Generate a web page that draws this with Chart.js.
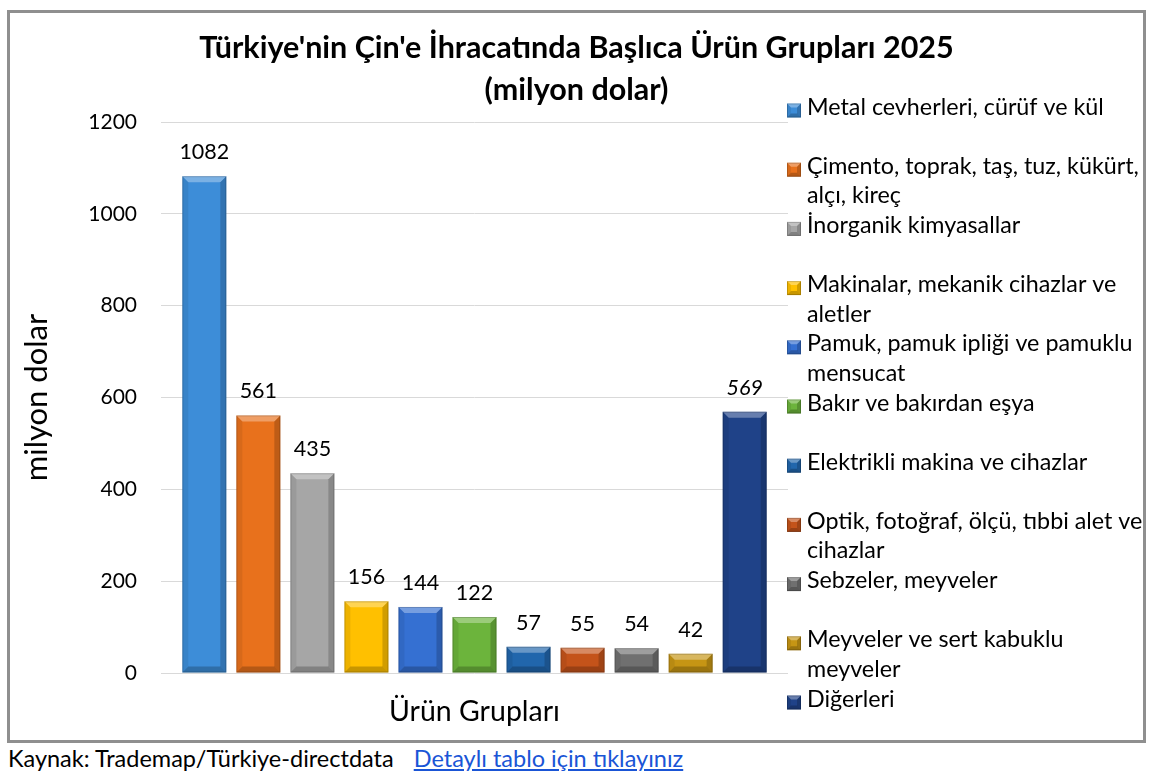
<!DOCTYPE html>
<html><head><meta charset="utf-8">
<script src="https://cdn.jsdelivr.net/npm/chart.js@4.4.1/dist/chart.umd.min.js"></script>
<style>
html,body{margin:0;padding:0;background:#fff;}
#box{position:absolute;left:7px;top:10px;width:1139px;height:733px;border:3px solid #8f8f8f;box-sizing:border-box;background:#fff;}
#box canvas{display:block}
#foot{position:absolute;left:8px;top:744px;font-family:Lato,sans-serif;font-size:23.5px;line-height:28px;color:#000;white-space:nowrap}
#foot a{color:#1a55d6;margin-left:20px}
</style></head><body>
<div id="box"><canvas id="c" width="1133" height="727"></canvas></div>
<div id="foot">Kaynak: Trademap/Türkiye-directdata<a href="#">Detaylı tablo için tıklayınız</a></div>
<script>
// ---- data ----
const titleLines = ["Türkiye'nin Çin'e İhracatında Başlıca Ürün Grupları 2025", "(milyon dolar)"];
const categories = [
  ["Metal cevherleri, cürüf ve kül"],
  ["Çimento, toprak, taş, tuz, kükürt,", "alçı, kireç"],
  ["İnorganik kimyasallar"],
  ["Makinalar, mekanik cihazlar ve", "aletler"],
  ["Pamuk, pamuk ipliği ve pamuklu", "mensucat"],
  ["Bakır ve bakırdan eşya"],
  ["Elektrikli makina ve cihazlar"],
  ["Optik, fotoğraf, ölçü, tıbbi alet ve", "cihazlar"],
  ["Sebzeler, meyveler"],
  ["Meyveler ve sert kabuklu", "meyveler"],
  ["Diğerleri"]
];
const values = [1082, 561, 435, 156, 144, 122, 57, 55, 54, 42, 569];
const colors = ["#3d8dd8", "#e8711c", "#a6a6a6", "#ffc000", "#3570d2", "#6cb43c", "#2166ac", "#c4531a", "#707070", "#c69514", "#1f4288"];
const yTicks = [0, 200, 400, 600, 800, 1000, 1200];
const yTitle = "milyon dolar";
const xTitle = "Ürün Grupları";

const FONT = "Lato, 'Open Sans', sans-serif";

function bevel(ctx, L, T, R, B, b) {
  b = Math.min(b, (B - T) / 2, (R - L) / 2);
  ctx.save();
  ctx.fillStyle = "rgba(255,255,255,0.32)";
  ctx.beginPath(); ctx.moveTo(L, T); ctx.lineTo(R, T); ctx.lineTo(R - b, T + b); ctx.lineTo(L + b, T + b); ctx.closePath(); ctx.fill();
  ctx.fillStyle = "rgba(0,0,0,0.07)";
  ctx.beginPath(); ctx.moveTo(L, T); ctx.lineTo(L + b, T + b); ctx.lineTo(L + b, B - b); ctx.lineTo(L, B); ctx.closePath(); ctx.fill();
  ctx.fillStyle = "rgba(0,0,0,0.18)";
  ctx.beginPath(); ctx.moveTo(R, T); ctx.lineTo(R - b, T + b); ctx.lineTo(R - b, B - b); ctx.lineTo(R, B); ctx.closePath(); ctx.fill();
  ctx.fillStyle = "rgba(0,0,0,0.22)";
  ctx.beginPath(); ctx.moveTo(L, B); ctx.lineTo(L + b, B - b); ctx.lineTo(R - b, B - b); ctx.lineTo(R, B); ctx.closePath(); ctx.fill();
  ctx.strokeStyle = "rgba(0,0,0,0.18)"; ctx.lineWidth = 1;
  ctx.strokeRect(L + 0.5, T + 0.5, R - L - 1, B - T - 1);
  ctx.restore();
}

const decor = {
  id: 'decor',
  afterDatasetsDraw(chart) {
    const ctx = chart.ctx;
    ctx.save();
    chart.data.datasets.forEach((ds, i) => {
      const bar = chart.getDatasetMeta(i).data[0];
      const L = bar.x - bar.width / 2, R = bar.x + bar.width / 2;
      bevel(ctx, L, bar.y, R, bar.base, 6);
      ctx.fillStyle = "#000";
      ctx.font = (i === values.length - 1 ? "italic " : "") + "21.5px " + FONT;
      ctx.textAlign = "center";
      ctx.textBaseline = "middle";
      ctx.fillText(String(values[i]), bar.x, bar.y - 24);
    });
    ctx.restore();
  },
  afterDraw(chart) {
    const ctx = chart.ctx;
    ctx.save();
    ctx.font = "23.3px " + FONT;
    ctx.textAlign = "left";
    ctx.textBaseline = "alphabetic";
    categories.forEach((lines, i) => {
      const base = 101.5 + i * 59.2;
      const mx = 777, my = base - 11, ms = 14;
      ctx.fillStyle = colors[i];
      ctx.fillRect(mx, my, ms, ms);
      bevel(ctx, mx, my, mx + ms, my + ms, 4);
      ctx.fillStyle = "#000";
      lines.forEach((t, k) => ctx.fillText(t, 797, base + k * 29.5));
    });
    ctx.restore();
  }
};

new Chart(document.getElementById('c'), {
  type: 'bar',
  data: {
    labels: [''],
    datasets: categories.map((lines, i) => ({
      label: lines.join(' '),
      data: [values[i]],
      yAxisID: 'y',
      backgroundColor: colors[i],
      borderWidth: 0,
      categoryPercentage: 0.948,
      barPercentage: 0.814
    }))
  },
  options: {
    responsive: false,
    animation: false,
    devicePixelRatio: 1,
    layout: { padding: 0 },
    plugins: {
      legend: { display: false },
      tooltip: { enabled: false },
      title: {
        display: true,
        text: titleLines,
        color: '#000',
        font: { family: FONT, size: 30.5, weight: 'bold', lineHeight: 42 / 30.5 },
        padding: { top: 14, bottom: 11 }
      }
    },
    scales: {
      x: {
        grid: { display: false },
        border: { display: false },
        ticks: { display: false },
        title: { display: true, text: xTitle, color: '#000', font: { family: FONT, size: 28.5, lineHeight: 1.2 }, padding: { top: 0, bottom: 11 } },
        afterFit(s) { s.height = 67; }
      },
      y: {
        position: 'left',
        min: 0, max: 1200,
        afterBuildTicks(s) { s.ticks = yTicks.map(v => ({ value: v })); },
        grid: { color: '#d9d9d9', lineWidth: 1, drawTicks: false },
        border: { display: false },
        ticks: { color: '#000', padding: 24, font: { family: FONT, size: 21 }, callback: v => String(v) },
        title: { display: true, text: yTitle, color: '#000', font: { family: FONT, size: 31, lineHeight: 1.2 }, padding: { top: 8.4, bottom: 0 } },
        afterFit(s) { s.width = 151; }
      },
      yr: {
        axis: 'y',
        position: 'right',
        min: 0, max: 1200,
        grid: { display: false, drawTicks: false },
        border: { display: false },
        ticks: { display: false },
        afterFit(s) { s.width = 355; }
      }
    }
  },
  plugins: [decor]
});
</script>
</body></html>
